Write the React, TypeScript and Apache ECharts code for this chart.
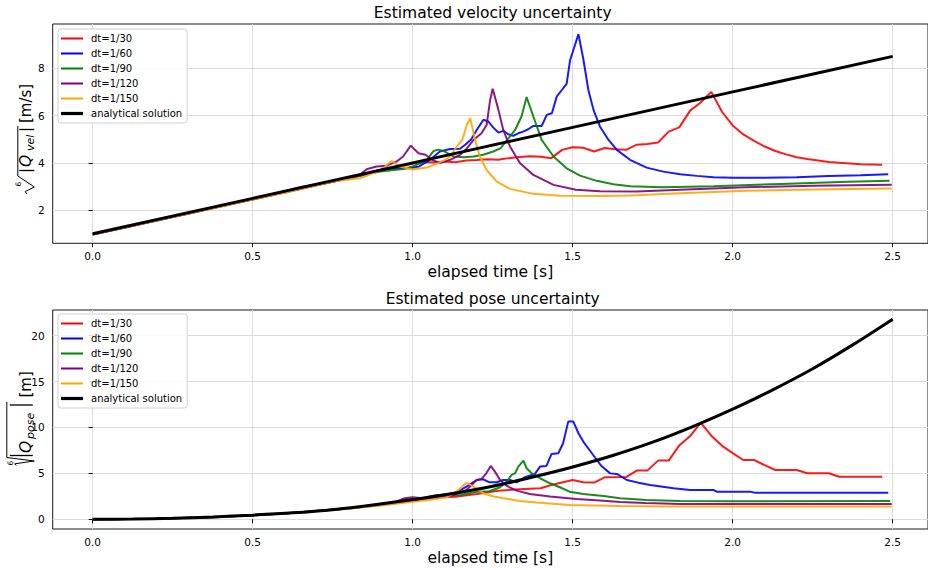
import React, { useEffect, useRef } from "react";
import * as echarts from "echarts";

const FONT = "'DejaVu Sans', 'Liberation Sans', sans-serif";

const SERIES_NAMES = ["dt=1/30", "dt=1/60", "dt=1/90", "dt=1/120", "dt=1/150", "analytical solution"];
const SERIES_COLORS = ["#ff0000", "#0000ff", "#008000", "#800080", "#ffa500", "#000000"];
const X_TICKS = [0, 0.5, 1, 1.5, 2, 2.5];
const VEL_Y_TICKS = [2, 4, 6, 8];
const POSE_Y_TICKS = [0, 5, 10, 15, 20];

// ---------- Estimated velocity uncertainty ----------
const velDt30 = [[0,0.97],[0.1,1.26],[0.2,1.56],[0.3,1.86],[0.4,2.15],[0.5,2.45],[0.6,2.75],[0.7,3.05],[0.8,3.35],[0.867,3.55],[0.9,3.66],[0.933,3.76],[0.967,3.86],[1.0,3.97],[1.033,4.04],[1.067,4.02],[1.1,4.06],[1.133,4.03],[1.167,4.1],[1.2,4.12],[1.233,4.15],[1.267,4.13],[1.3,4.2],[1.333,4.25],[1.367,4.28],[1.4,4.26],[1.433,4.2],[1.467,4.55],[1.5,4.66],[1.533,4.64],[1.567,4.48],[1.6,4.63],[1.633,4.58],[1.667,4.55],[1.7,4.77],[1.733,4.8],[1.767,4.86],[1.8,5.32],[1.833,5.5],[1.867,6.21],[1.9,6.55],[1.933,7.0],[1.967,6.15],[2.0,5.58],[2.033,5.2],[2.067,4.93],[2.1,4.69],[2.133,4.5],[2.167,4.36],[2.2,4.24],[2.233,4.16],[2.267,4.1],[2.3,4.04],[2.333,4.0],[2.367,3.97],[2.4,3.94],[2.433,3.93],[2.467,3.92]];
const velDt60 = [[0,0.97],[0.1,1.27],[0.2,1.56],[0.3,1.86],[0.4,2.16],[0.5,2.46],[0.6,2.76],[0.7,3.06],[0.8,3.35],[0.85,3.5],[0.89,3.68],[0.94,3.76],[0.99,3.77],[1.02,3.85],[1.054,4.13],[1.085,4.48],[1.117,4.59],[1.148,4.6],[1.165,4.78],[1.183,5.0],[1.2,5.39],[1.221,5.82],[1.236,5.75],[1.252,5.49],[1.268,5.28],[1.283,5.35],[1.299,5.21],[1.314,5.14],[1.33,5.25],[1.345,5.32],[1.361,5.42],[1.377,5.56],[1.403,5.56],[1.419,6.03],[1.435,6.1],[1.45,6.8],[1.466,7.08],[1.481,7.34],[1.492,8.35],[1.502,8.77],[1.518,9.44],[1.533,8.4],[1.549,7.08],[1.565,6.24],[1.585,5.54],[1.612,4.97],[1.638,4.55],[1.679,4.13],[1.731,3.8],[1.783,3.63],[1.836,3.52],[1.888,3.45],[1.94,3.39],[2.0,3.37],[2.1,3.37],[2.2,3.39],[2.3,3.44],[2.4,3.48],[2.486,3.52]];
const velDt90 = [[0,0.98],[0.1,1.28],[0.2,1.57],[0.3,1.87],[0.4,2.17],[0.5,2.47],[0.6,2.8],[0.65,2.98],[0.7,3.09],[0.75,3.22],[0.8,3.36],[0.85,3.52],[0.9,3.64],[0.94,3.7],[0.97,3.74],[1.0,3.85],[1.022,3.98],[1.044,4.13],[1.065,4.5],[1.08,4.56],[1.1,4.48],[1.127,4.27],[1.16,4.24],[1.19,4.27],[1.22,4.34],[1.252,4.48],[1.275,4.62],[1.299,5.04],[1.32,5.39],[1.34,5.96],[1.356,6.78],[1.377,5.96],[1.403,4.97],[1.44,4.27],[1.481,3.77],[1.523,3.46],[1.575,3.24],[1.627,3.1],[1.68,3.01],[1.78,2.97],[1.94,3.01],[2.15,3.11],[2.36,3.2],[2.49,3.24]];
const velDt120 = [[0,0.98],[0.1,1.28],[0.2,1.57],[0.3,1.87],[0.4,2.16],[0.5,2.46],[0.6,2.76],[0.7,3.06],[0.75,3.2],[0.8,3.36],[0.835,3.5],[0.856,3.73],[0.887,3.85],[0.92,3.88],[0.95,4.06],[0.97,4.27],[0.994,4.73],[1.018,4.41],[1.04,4.34],[1.06,4.13],[1.085,3.99],[1.117,4.13],[1.148,4.34],[1.17,4.62],[1.19,4.97],[1.215,5.25],[1.231,5.6],[1.242,6.66],[1.25,7.13],[1.268,6.24],[1.283,5.39],[1.304,4.69],[1.335,3.99],[1.377,3.49],[1.44,3.07],[1.51,2.86],[1.585,2.8],[1.7,2.79],[1.836,2.86],[2.04,2.97],[2.25,3.03],[2.497,3.08]];
const velDt150 = [[0,0.98],[0.1,1.27],[0.2,1.56],[0.3,1.86],[0.4,2.15],[0.5,2.45],[0.6,2.74],[0.7,3.05],[0.75,3.2],[0.8,3.3],[0.835,3.35],[0.856,3.45],[0.887,3.63],[0.91,3.8],[0.934,4.08],[0.96,3.85],[1.0,3.72],[1.044,3.8],[1.075,3.96],[1.1,4.13],[1.117,4.27],[1.138,4.69],[1.155,4.97],[1.169,5.6],[1.18,5.89],[1.195,4.97],[1.21,4.27],[1.231,3.7],[1.263,3.21],[1.304,2.9],[1.377,2.69],[1.46,2.61],[1.585,2.6],[1.68,2.62],[1.836,2.72],[2.044,2.82],[2.25,2.87],[2.497,2.92]];
const velAnalytic = [[0,1],[0.5,2.5],[1,4],[1.5,5.5],[2,7],[2.5,8.5]];

// ---------- Estimated pose uncertainty ----------
const poseDt30 = [[0,0],[0.2,0.05],[0.4,0.26],[0.6,0.62],[0.8,1.18],[0.9,1.55],[1.0,1.98],[1.067,2.38],[1.133,2.46],[1.2,2.75],[1.267,3.1],[1.333,3.27],[1.4,3.38],[1.433,3.74],[1.5,4.28],[1.533,4.03],[1.567,4.0],[1.6,4.57],[1.667,4.6],[1.7,5.3],[1.733,5.3],[1.767,6.39],[1.8,6.39],[1.833,8.05],[1.867,9.07],[1.9,10.53],[1.933,9.1],[1.967,8.0],[2.0,7.2],[2.033,6.46],[2.067,6.46],[2.1,5.9],[2.133,5.37],[2.167,5.37],[2.2,5.37],[2.233,5.01],[2.267,5.01],[2.3,5.01],[2.333,4.64],[2.367,4.64],[2.4,4.64],[2.433,4.64],[2.467,4.64]];
const poseDt60 = [[0,0],[0.2,0.05],[0.4,0.26],[0.6,0.62],[0.8,1.18],[0.9,1.58],[1.0,2.05],[1.065,2.55],[1.1,2.7],[1.127,2.83],[1.15,3.2],[1.168,3.55],[1.2,4.28],[1.22,4.36],[1.24,4.03],[1.262,4.03],[1.283,4.28],[1.304,4.28],[1.325,4.03],[1.35,4.58],[1.382,4.94],[1.398,5.74],[1.418,5.81],[1.434,7.12],[1.455,7.19],[1.47,8.28],[1.486,10.64],[1.502,10.64],[1.518,9.37],[1.533,8.46],[1.564,7.0],[1.59,5.8],[1.617,5.0],[1.638,4.94],[1.669,4.28],[1.705,3.99],[1.742,3.74],[1.815,3.37],[1.867,3.19],[1.94,3.19],[1.95,3.01],[2.054,3.01],[2.07,2.9],[2.486,2.9]];
const poseDt90 = [[0,0],[0.2,0.06],[0.4,0.27],[0.6,0.64],[0.8,1.2],[0.9,1.58],[1.0,2.05],[1.065,2.57],[1.15,2.64],[1.2,3.0],[1.24,3.05],[1.273,3.49],[1.294,4.1],[1.309,4.83],[1.32,5.01],[1.33,5.74],[1.346,6.39],[1.356,5.56],[1.372,5.01],[1.398,4.47],[1.429,3.92],[1.46,3.49],[1.49,3.01],[1.533,2.76],[1.596,2.54],[1.648,2.29],[1.731,2.1],[1.836,1.99],[2.0,1.97],[2.492,1.99]];
const poseDt120 = [[0,0],[0.2,0.06],[0.4,0.27],[0.6,0.63],[0.8,1.2],[0.9,1.62],[0.95,1.95],[0.975,2.3],[1.0,2.39],[1.03,2.3],[1.075,2.28],[1.127,2.64],[1.168,3.19],[1.2,4.28],[1.215,4.4],[1.23,5.01],[1.244,5.81],[1.257,5.19],[1.273,4.28],[1.294,3.63],[1.325,3.12],[1.366,2.76],[1.429,2.47],[1.512,2.21],[1.596,2.03],[1.648,1.89],[1.727,1.77],[1.836,1.67],[2.497,1.67]];
const poseDt150 = [[0,0],[0.2,0.05],[0.4,0.26],[0.6,0.62],[0.8,1.15],[0.9,1.5],[1.0,1.9],[1.05,2.1],[1.106,2.39],[1.137,3.0],[1.168,3.99],[1.19,3.55],[1.22,2.83],[1.25,2.5],[1.283,2.29],[1.335,2.0],[1.387,1.82],[1.49,1.56],[1.648,1.45],[1.8,1.4],[2.497,1.38]];
const poseAnalytic = [[0,0],[0.125,0.02],[0.25,0.1],[0.375,0.25],[0.5,0.45],[0.625,0.7],[0.75,1.05],[0.875,1.55],[1.0,2.15],[1.125,2.8],[1.25,3.6],[1.375,4.6],[1.5,5.7],[1.625,6.95],[1.75,8.4],[1.875,10.1],[2.0,12.0],[2.125,14.1],[2.25,16.4],[2.375,19.0],[2.5,21.8]];

const VEL_DATA = [velDt30, velDt60, velDt90, velDt120, velDt150, velAnalytic];
const POSE_DATA = [poseDt30, poseDt60, poseDt90, poseDt120, poseDt150, poseAnalytic];

const GRID_LEFT = 52.7;
const GRID_WIDTH = 928 - 52.7;
const X_MIN = -0.125;
const X_MAX = X_MIN + GRID_WIDTH / 320;
const GRIDS = [
  { top: 24, height: 219.3, yMin: 0.6, yMax: 9.87, yTicks: VEL_Y_TICKS },
  { top: 310, height: 219, yMin: -1.06, yMax: 22.8, yTicks: POSE_Y_TICKS },
];

function buildSeries(data: number[][][], idx: number) {
  return data.map((d, i) => ({
    name: SERIES_NAMES[i],
    type: "line",
    xAxisIndex: idx,
    yAxisIndex: idx,
    data: d,
    symbol: "none",
    showSymbol: false,
    smooth: i === 5 && idx === 1 ? 0.3 : false,
    lineStyle: { color: SERIES_COLORS[i], width: i === 5 ? 3 : 2, opacity: i === 5 ? 1 : 0.9 },
    itemStyle: { color: SERIES_COLORS[i] },
    silent: true,
  }));
}

const txt = (x: number, y: number, text: string, fontSize: number, italic = false) => ({
  type: "text",
  x,
  y: y - 0.346 * fontSize,
  style: {
    text,
    fontSize,
    fontFamily: FONT,
    fontStyle: italic ? "italic" : "normal",
    fill: "#000",
    align: "left",
    verticalAlign: "middle",
  },
});

// rotated y label: local coords, baseline at y=0, text runs along +x
function yLabel(gx: number, gy: number, sub: string, unit: string, g: any) {
  return {
    type: "group",
    x: gx,
    y: gy,
    rotation: Math.PI / 2,
    children: [
      {
        type: "polyline",
        shape: { points: g.radical },
        style: { stroke: "#000", lineWidth: 1, fill: "none" },
      },
      {
        type: "text",
        x: g.idxX,
        y: g.idxY,
        style: { text: "6", fontSize: 7.5, fontFamily: FONT, fill: "#000", align: "center", verticalAlign: "bottom" },
      },
      { type: "line", shape: { x1: g.bar1, y1: g.barTop, x2: g.bar1, y2: g.barBot }, style: { stroke: "#000", lineWidth: 1.3 } },
      { type: "line", shape: { x1: g.bar2, y1: g.barTop, x2: g.bar2, y2: g.barBot }, style: { stroke: "#000", lineWidth: 1.3 } },
      txt(g.qx, 0, "Q", 15.5, true),
      txt(g.sx, 2.8, sub, 11, true),
      txt(g.ux, 0, `[${unit}]`, 15),
    ],
  };
}

export default function App() {
  const ref = useRef<HTMLDivElement>(null);
  useEffect(() => {
    document.body.style.margin = "0";
    if (!ref.current) return;
    const chart = echarts.init(ref.current, undefined, { renderer: "svg" });
    const legendItems = SERIES_NAMES.map((n, i) => ({
      name: n,
      icon: i === 5 ? "path://M0,0 L22,0 L22,3.2 L0,3.2 Z" : "path://M0,0 L22,0 L22,2 L0,2 Z",
    }));
    const option: any = {
      animation: false,
      backgroundColor: "#ffffff",
      grid: GRIDS.map((g) => ({
        left: GRID_LEFT,
        top: g.top,
        width: GRID_WIDTH,
        height: g.height,
        show: true,
        borderColor: "#1a1a1a",
        borderWidth: 1,
        backgroundColor: "transparent",
        containLabel: false,
      })),
      xAxis: GRIDS.map((g, i) => ({
        type: "value",
        gridIndex: i,
        min: X_MIN,
        max: X_MAX,
        axisLine: { show: false },
        axisTick: { show: true, length: 4, lineStyle: { color: "#000", width: 1 }, customValues: X_TICKS },
        axisLabel: {
          customValues: X_TICKS,
          formatter: (v: number) => v.toFixed(1),
          color: "#000",
          fontSize: 10.5,
          fontFamily: FONT,
          margin: 7,
        },
        splitLine: { show: true, lineStyle: { color: "#dcdcdc", width: 1 } },
        name: "elapsed time [s]",
        nameLocation: "middle",
        nameGap: 21,
        nameTextStyle: { fontSize: 15.5, color: "#000", fontFamily: FONT },
      })),
      yAxis: GRIDS.map((g, i) => ({
        type: "value",
        gridIndex: i,
        min: g.yMin,
        max: g.yMax,
        axisLine: { show: false },
        axisTick: { show: true, length: 4, lineStyle: { color: "#000", width: 1 }, customValues: g.yTicks },
        axisLabel: {
          customValues: g.yTicks,
          formatter: (v: number) => String(Math.round(v)),
          color: "#000",
          fontSize: 10.5,
          fontFamily: FONT,
          margin: 8,
        },
        splitLine: { show: true, lineStyle: { color: "#dcdcdc", width: 1 } },
      })),
      legend: [29, 314].map((top) => ({
        data: legendItems,
        left: 58,
        top,
        orient: "vertical",
        itemWidth: 22,
        itemHeight: 10,
        itemGap: 5,
        symbolKeepAspect: true,
        padding: [4.5, 5, 4.5, 3],
        borderColor: "#d0d0d0",
        borderWidth: 1,
        borderRadius: 3,
        backgroundColor: "rgba(255,255,255,0.85)",
        selectedMode: false,
        textStyle: { fontSize: 10, color: "#000", fontFamily: FONT, padding: [0, 0, 0, 3] },
      })),
      series: [...buildSeries(VEL_DATA, 0), ...buildSeries(POSE_DATA, 1)],
      graphic: [
        {
          type: "text",
          x: GRID_LEFT + 440,
          y: 13,
          style: { text: "Estimated velocity uncertainty", fontSize: 15.5, fontFamily: FONT, fill: "#000", align: "center", verticalAlign: "middle" },
        },
        {
          type: "text",
          x: GRID_LEFT + 440,
          y: 299,
          style: { text: "Estimated pose uncertainty", fontSize: 15.5, fontFamily: FONT, fill: "#000", align: "center", verticalAlign: "middle" },
        },
        yLabel(31.3, 197, "vel", "m/s", {
          radical: [[3, -4.5], [5.5, -6], [10, 3], [21, -13.5], [71, -13.5]],
          idxX: 13, idxY: -9,
          bar1: 26.5, bar2: 67.5, barTop: -12, barBot: 3, qx: 30, sx: 46, ux: 74,
        }),
        yLabel(31.3, 466, "pose", "m", {
          radical: [[0.5, -15], [2.2, -16.5], [5, 3], [8.5, -24.5], [64, -24.5]],
          idxX: 3, idxY: -16.5,
          bar1: 10.5, bar2: 61, barTop: -21.5, barBot: 1.5, qx: 13, sx: 27, ux: 68.5,
        }),
      ],
    };
    chart.setOption(option);
    return () => chart.dispose();
  }, []);
  return <div ref={ref} style={{ width: 928, height: 570 }} />;
}
